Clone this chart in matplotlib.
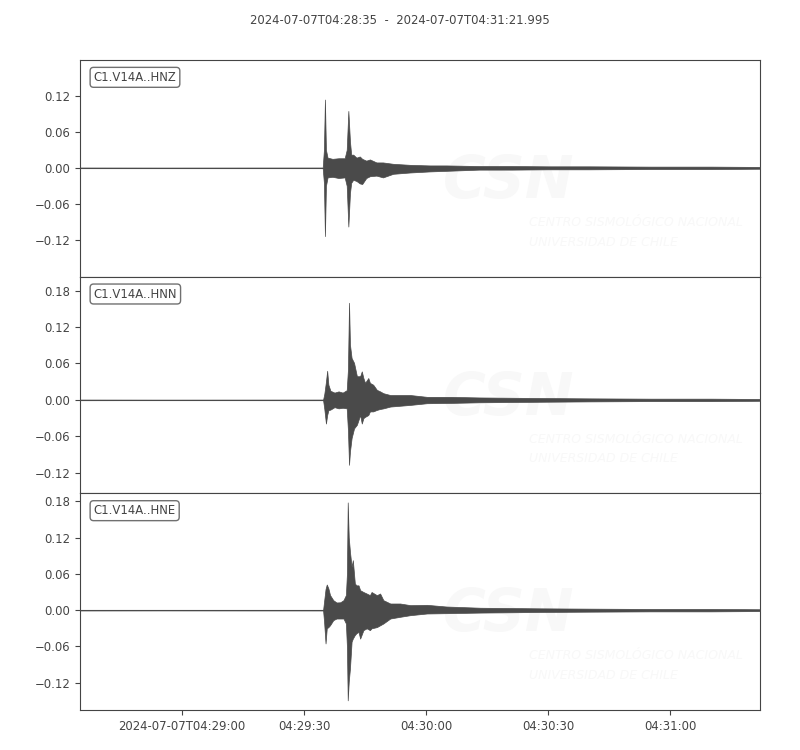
import matplotlib.pyplot as plt

# time span of the record
title = "2024-07-07T04:28:35  -  2024-07-07T04:31:21.995"
duration = 166.995  # seconds after 04:28:35

stations = ["C1.V14A..HNZ", "C1.V14A..HNN", "C1.V14A..HNE"]

# envelope of each trace: seconds after start, upper, lower
hnz_t = [0, 20, 59.6, 59.9, 60.15, 60.4, 60.8, 62.0, 63.5, 65.0,
         65.5, 65.9, 66.3, 66.6, 67.1, 67.9, 68.7, 69.3, 70.3, 71.2,
         72.8, 74.4, 76.9, 81.0, 85.9, 90.0, 98.0, 106, 115, 125,
         140, 155, 167]
hnz_up = [0.0005, 0.0004, 0.0005, 0.03, 0.114, 0.03, 0.017, 0.015, 0.016, 0.016,
          0.03, 0.095, 0.044, 0.022, 0.022, 0.017, 0.019, 0.015, 0.012, 0.014,
          0.009, 0.009, 0.0067, 0.005, 0.004, 0.004, 0.003, 0.003, 0.0025, 0.0025,
          0.002, 0.002, 0.0015]
hnz_lo = [-0.0005, -0.0004, -0.0005, -0.025, -0.114, -0.03, -0.016, -0.015, -0.017, -0.016,
          -0.03, -0.098, -0.042, -0.025, -0.020, -0.022, -0.026, -0.027, -0.017, -0.014,
          -0.013, -0.016, -0.010, -0.0078, -0.006, -0.005, -0.003, -0.003, -0.0025, -0.0025,
          -0.002, -0.002, -0.0015]

hnn_t = [0, 20, 59.7, 60.0, 60.4, 60.7, 61.0, 61.5, 62.5, 63.5,
         64.5, 65.5, 65.8, 66.07, 66.3, 66.7, 67.3, 68.0, 68.8, 69.2,
         69.6, 70.0, 70.8, 71.2, 72.0, 72.9, 73.7, 74.5, 76.2, 81.1,
         85.2, 91, 98, 106, 115, 125, 140, 155, 167]
hnn_up = [0.0005, 0.0004, 0.0005, 0.01, 0.03, 0.048, 0.025, 0.015, 0.012, 0.014,
          0.012, 0.016, 0.05, 0.16, 0.091, 0.069, 0.061, 0.039, 0.039, 0.047,
          0.036, 0.028, 0.036, 0.028, 0.025, 0.0165, 0.014, 0.011, 0.008, 0.008,
          0.005, 0.005, 0.004, 0.0035, 0.003, 0.0025, 0.002, 0.002, 0.0015]
hnn_lo = [-0.0005, -0.0004, -0.0005, -0.015, -0.039, -0.025, -0.017, -0.016, -0.012, -0.014,
          -0.013, -0.014, -0.05, -0.107, -0.085, -0.063, -0.047, -0.041, -0.025, -0.039,
          -0.030, -0.028, -0.025, -0.019, -0.019, -0.0165, -0.015, -0.014, -0.011, -0.0083,
          -0.0055, -0.005, -0.004, -0.0035, -0.003, -0.0025, -0.002, -0.002, -0.0015]

hne_t = [0, 20, 59.7, 59.95, 60.3, 60.6, 61.0, 61.4, 62.2, 63.0,
         63.9, 64.7, 65.3, 65.55, 65.75, 66.0, 66.3, 66.7, 67.0, 67.5,
         67.9, 68.4, 68.8, 69.6, 70.4, 71.2, 71.6, 72.9, 73.7, 74.5,
         76.2, 78.6, 81.1, 85.2, 90, 98.3, 106, 113, 125, 140,
         155, 167]
hne_up = [0.0005, 0.0004, 0.0005, 0.015, 0.035, 0.0424, 0.036, 0.025, 0.0165, 0.0127,
          0.013, 0.0165, 0.025, 0.06, 0.178, 0.12, 0.0964, 0.0716, 0.0826, 0.044,
          0.041, 0.041, 0.033, 0.030, 0.0275, 0.0248, 0.030, 0.0248, 0.0275, 0.0165,
          0.011, 0.011, 0.0083, 0.0088, 0.006, 0.004, 0.0035, 0.003, 0.0025, 0.002,
          0.002, 0.0015]
hne_lo = [-0.0005, -0.0004, -0.0005, -0.02, -0.055, -0.030, -0.028, -0.025, -0.0165, -0.0138,
          -0.0138, -0.0138, -0.022, -0.06, -0.149, -0.118, -0.096, -0.052, -0.047, -0.041,
          -0.038, -0.036, -0.047, -0.033, -0.030, -0.033, -0.03, -0.028, -0.025, -0.022,
          -0.0138, -0.011, -0.0083, -0.0055, -0.005, -0.004, -0.0035, -0.003, -0.0025, -0.002,
          -0.002, -0.0015]

traces = [(hnz_t, hnz_up, hnz_lo), (hnn_t, hnn_up, hnn_lo), (hne_t, hne_up, hne_lo)]

ylims = [(-0.1817, 0.18), (-0.154, 0.203), (-0.165, 0.193)]
yticks = [[-0.12, -0.06, 0.0, 0.06, 0.12],
          [-0.12, -0.06, 0.0, 0.06, 0.12, 0.18],
          [-0.12, -0.06, 0.0, 0.06, 0.12, 0.18]]
xticks = [25, 55, 85, 115, 145]
xlabels = ["2024-07-07T04:29:00", "04:29:30", "04:30:00", "04:30:30", "04:31:00"]

grey = "#444444"
trace_col = "#4a4a4a"
wm_col = "#f8f8f8"

plt.rcParams["font.size"] = 10
fig = plt.figure(figsize=(8, 7.5), dpi=100)
fig.text(0.5, 0.973, title, ha="center", va="center", fontsize="small", color=grey)

height = (0.92 - 0.0533) / 3
for i in range(3):
    ax = fig.add_axes([0.1, 0.92 - (i + 1) * height, 0.85, height])
    t, up, lo = traces[i]

    # faint watermark of the data centre
    ax.text(0.63, 0.44, "CSN", transform=ax.transAxes, ha="center", va="center",
            fontsize=42, fontweight="bold", fontstyle="italic", color=wm_col, zorder=0)
    ax.text(0.66, 0.25, "CENTRO SISMOLÓGICO NACIONAL", transform=ax.transAxes,
            ha="left", va="center", fontsize=9, fontstyle="italic", color=wm_col, zorder=0)
    ax.text(0.66, 0.16, "UNIVERSIDAD DE CHILE", transform=ax.transAxes,
            ha="left", va="center", fontsize=9, fontstyle="italic", color=wm_col, zorder=0)

    ax.plot([0, duration], [0, 0], color=trace_col, lw=0.8, zorder=2)
    ax.fill_between(t, lo, up, color=trace_col, lw=0.5, zorder=3)

    ax.set_xlim(0, duration)
    ax.set_ylim(*ylims[i])
    ax.set_yticks(yticks[i])
    ax.set_xticks(xticks)
    if i < 2:
        ax.tick_params(axis="x", bottom=False, labelbottom=False)
    else:
        ax.set_xticklabels(xlabels)
    ax.tick_params(colors=grey, labelcolor=grey, labelsize="small", length=3.5)
    for s in ax.spines.values():
        s.set_color(grey)

    ax.text(0.02, 0.95, stations[i], transform=ax.transAxes, ha="left", va="top",
            fontsize="small", color=grey,
            bbox=dict(boxstyle="round", fc="white", ec="#707070", lw=1.0))

fig.savefig("out.png")
